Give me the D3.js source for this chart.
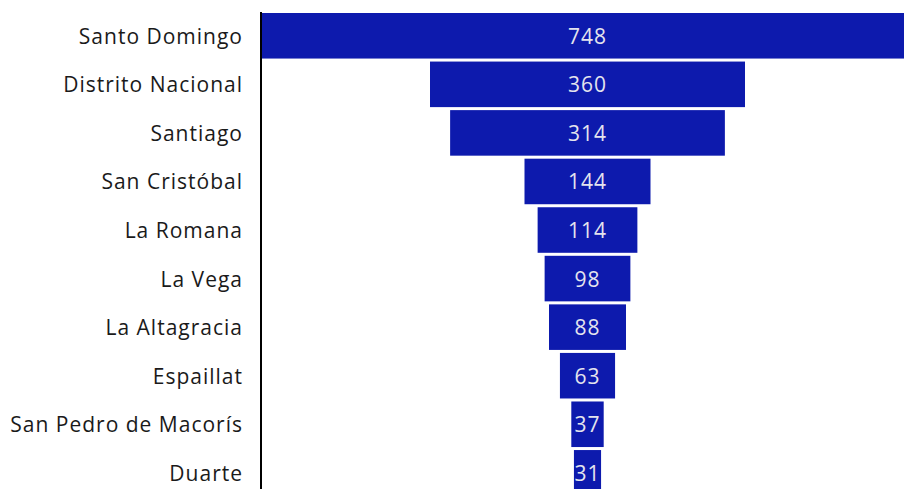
<!DOCTYPE html>
<html><head><meta charset="utf-8">
<script src="https://cdn.jsdelivr.net/npm/d3@7"></script>
<style>
html,body{margin:0;padding:0;background:#fff;overflow:hidden;}
svg{display:block;}
</style></head>
<body>
<svg id="chart" width="904" height="489"></svg>
<script>
const categories = ["Santo Domingo","Distrito Nacional","Santiago","San Cristóbal","La Romana","La Vega","La Altagracia","Espaillat","San Pedro de Macorís","Duarte"];
const values = [748,360,314,144,114,98,88,63,37,31];

const W = 904, H = 489;
const svg = d3.select("#chart");
const font = "'Open Sans', sans-serif";

const maxV = d3.max(values);
const x = d3.scaleLinear().domain([-maxV/2, maxV/2]).range([260.25, 914.75]);
const y = d3.scaleBand().domain(categories).range([13, 495.6]).paddingInner(0.062).paddingOuter(0);

const data = categories.map((c,i)=>({c, v: values[i]}));

svg.append("g").selectAll("rect").data(data).join("rect")
  .attr("x", d => x(-d.v/2))
  .attr("width", d => x(d.v/2) - x(-d.v/2))
  .attr("y", d => y(d.c))
  .attr("height", y.bandwidth())
  .attr("fill", "#0d1aad");

svg.append("g").selectAll("text").data(data).join("text")
  .attr("x", x(0))
  .attr("y", d => y(d.c) + y.bandwidth()/2)
  .attr("dy", "0.38em")
  .attr("text-anchor", "middle")
  .attr("fill", "#e4e4ee")
  .style("font-family", font)
  .style("font-size", "21px")
  .style("font-weight", 400)
  .style("letter-spacing", "1px")
  .text(d => d.v);

const axis = d3.axisLeft(y).tickSize(0).tickPadding(18);
const gA = svg.append("g").attr("transform", "translate(261,0)").call(axis);
gA.select(".domain").attr("d", "M0,12V" + H).attr("stroke", "#000").attr("stroke-width", 2);
gA.selectAll("text").style("font-family", font).style("font-size", "21px").style("font-weight", 400)
  .style("letter-spacing", "1px").attr("dy", "0.38em").attr("fill", "#1a1a1a");
</script>
</body></html>
